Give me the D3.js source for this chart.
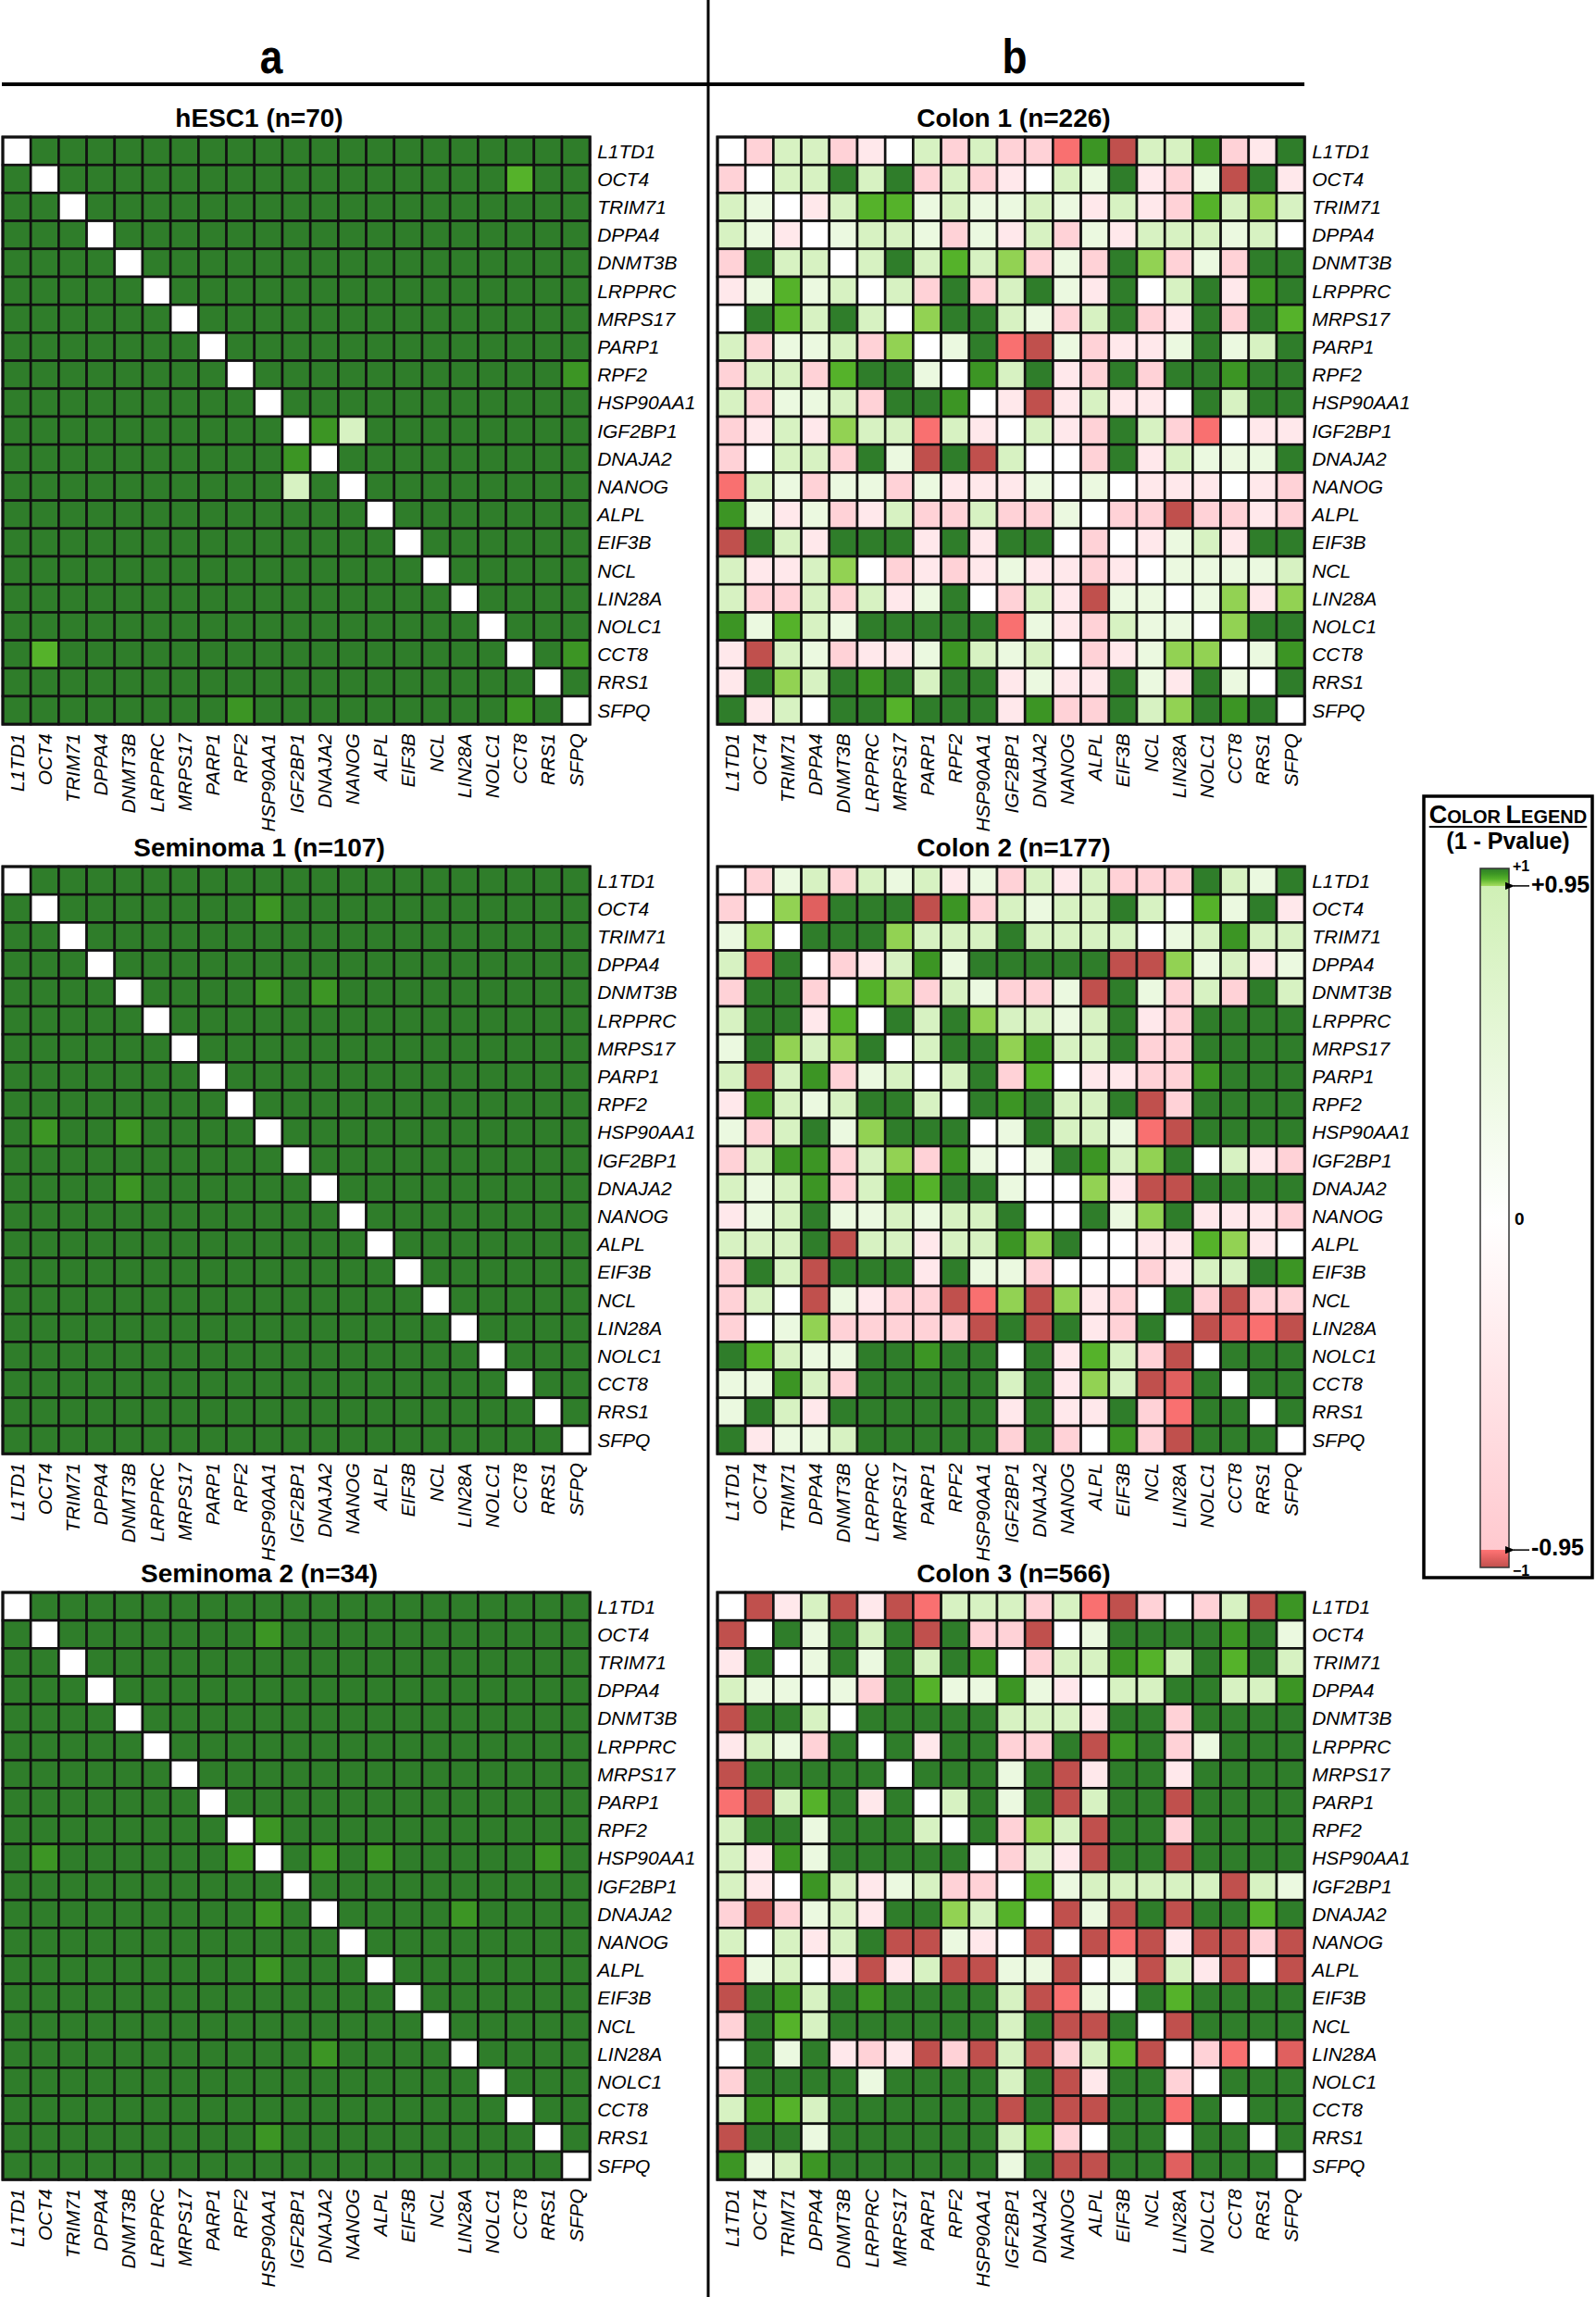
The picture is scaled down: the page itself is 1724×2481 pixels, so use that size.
<!DOCTYPE html>
<html><head><meta charset="utf-8">
<script src="https://cdn.jsdelivr.net/npm/d3@7"></script>
<style>body{margin:0;background:#fff} svg{display:block}</style>
</head><body>
<svg id="chart" width="1724" height="2481"></svg>
<script>
// ---------------- DATA ----------------
const genes = ["L1TD1","OCT4","TRIM71","DPPA4","DNMT3B","LRPPRC","MRPS17","PARP1","RPF2","HSP90AA1","IGF2BP1","DNAJA2","NANOG","ALPL","EIF3B","NCL","LIN28A","NOLC1","CCT8","RRS1","SFPQ"];
// signed (1 - Pvalue) levels used for each cell code (x = diagonal, no value)
const codeValues = {D:1, M:0.985, B:0.97, L:0.955, g:0.8, h:0.4, w:0, q:-0.4, p:-0.8, r:-0.955, m:-0.975, R:-1, x:null};
const panelTitles = ["hESC1 (n=70)","Colon 1 (n=226)","Seminoma 1 (n=107)","Colon 2 (n=177)","Seminoma 2 (n=34)","Colon 3 (n=566)"];
const panelLetters = ["a","b"];

const hESC1 = [
"xDDDDDD DDDDDDD DDDDDDD","DxDDDDD DDDDDDD DDDDBDD","DDxDDDD DDDDDDD DDDDDDD","DDDxDDD DDDDDDD DDDDDDD",
"DDDDxDD DDDDDDD DDDDDDD","DDDDDxD DDDDDDD DDDDDDD","DDDDDDx DDDDDDD DDDDDDD","DDDDDDD xDDDDDD DDDDDDD",
"DDDDDDD DxDDDDD DDDDDDM","DDDDDDD DDxDDDD DDDDDDD","DDDDDDD DDDxMgD DDDDDDD","DDDDDDD DDDMxDD DDDDDDD",
"DDDDDDD DDDgDxD DDDDDDD","DDDDDDD DDDDDDx DDDDDDD","DDDDDDD DDDDDDD xDDDDDD","DDDDDDD DDDDDDD DxDDDDD",
"DDDDDDD DDDDDDD DDxDDDD","DDDDDDD DDDDDDD DDDxDDD","DBDDDDD DDDDDDD DDDDxDM","DDDDDDD DDDDDDD DDDDDxD",
"DDDDDDD DMDDDDD DDDDMDx"];
const seminoma1 = [
"xDDDDDD DDDDDDD DDDDDDD","DxDDDDD DDMDDDD DDDDDDD","DDxDDDD DDDDDDD DDDDDDD","DDDxDDD DDDDDDD DDDDDDD",
"DDDDxDD DDMDMDD DDDDDDD","DDDDDxD DDDDDDD DDDDDDD","DDDDDDx DDDDDDD DDDDDDD","DDDDDDD xDDDDDD DDDDDDD",
"DDDDDDD DxDDDDD DDDDDDD","DMDDMDD DDxDDDD DDDDDDD","DDDDDDD DDDxDDD DDDDDDD","DDDDMDD DDDDxDD DDDDDDD",
"DDDDDDD DDDDDxD DDDDDDD","DDDDDDD DDDDDDx DDDDDDD","DDDDDDD DDDDDDD xDDDDDD","DDDDDDD DDDDDDD DxDDDDD",
"DDDDDDD DDDDDDD DDxDDDD","DDDDDDD DDDDDDD DDDxDDD","DDDDDDD DDDDDDD DDDDxDD","DDDDDDD DDDDDDD DDDDDxD",
"DDDDDDD DDDDDDD DDDDDDx"];
const seminoma2 = [
"xDDDDDD DDDDDDD DDDDDDD","DxDDDDD DDMDDDD DDDDDDD","DDxDDDD DDDDDDD DDDDDDD","DDDxDDD DDDDDDD DDDDDDD",
"DDDDxDD DDDDDDD DDDDDDD","DDDDDxD DDDDDDD DDDDDDD","DDDDDDx DDDDDDD DDDDDDD","DDDDDDD xDDDDDD DDDDDDD",
"DDDDDDD DxMDDDD DDDDDDD","DMDDDDD DMxDMDM DDDDDMD","DDDDDDD DDDxDDD DDDDDDD","DDDDDDD DDMDxDD DDMDDDD",
"DDDDDDD DDDDDxD DDDDDDD","DDDDDDD DDMDDDx DDDDDDD","DDDDDDD DDDDDDD xDDDDDD","DDDDDDD DDDDDDD DxDDDDD",
"DDDDDDD DDDDMDD DDxDDDD","DDDDDDD DDDDDDD DDDxDDD","DDDDDDD DDDDDDD DDDDxDD","DDDDDDD DDMDDDD DDDDDxD",
"DDDDDDD DDDDDDD DDDDDDx"];
const colon1 = [
"xpggpqw gpgpprM RggMpqD","pxggDgD pgpqwgh DqphRDq","ghxqgBB hghhghq gqpBgLg","ghqxhgg hphqgph qggghgw",
"pDggxgD gBgLphp DLphpDD","qhBhgxg pDpgDhq DwgDqMD","wDBgDgx LDDghpg DpqDpDB","gphhgpL xhDrRhp qqhDhgD",
"pggpBDD hxMgDqp DpDDMDD","gphhgpD DMxqRqg qqwDgDD","pqgqLgg rgqxgqp Dgprwqq","pwggpDh RDRgxwp DqghhhD",
"rghphhp hqqqhxh wqqqwqp","Mhqhpqg ppgpphx ppRppqp","RDgqDDD qDqDDwp xqhgqDD","gqqgLwp qpqhqqp qxhhhhg",
"gppgpgq hDwpgqR hhxhLqL","MhBghDD DDDrhqp ghhxLDD","qRghpqq hMghgwp qhLLxhM","qDLgDMD gDDqhqq DhqDhxD",
"DqgwDDB DDDqMpp DgLDMDx"];
const colon2 = [
"xphgpgh gqhpgqg pppDghD","pxLmDDD RMpghgg DgwBhDq","hLxDDDL gggDggg gwhgMgg","gmDxpqg MhDDDDD RRLhgqh",
"pDDpxBL pghpphR DhpgpDg","gDDqBxD gDLgghg DqpDDDD","hDLgLDx gDDLMgg DppDDDD","gRgMphg xgDpBwq qppMDDD",
"qMghgDD gxDMDgg DRpDDDD","hpgDhLD DDxhDgg hrRDDDD","pgMMpgL pMhxhDM gLDwgqp","ghgMpgM BDDhxwL qRRDDDD",
"qhgDhhg hggDwxD hLDqqqp","gggDRgg qggMLDx wqqBLqw","pDgRDDD qDhhpww xpqggDM","pgwRhqp pRrLRLq pxDpRpp",
"pwhLppp ppRDRDq pDxRmrR","DBghhDD MDDwDqB gpRxDDD","hhMgpDD DDDgDqL gRmDxDD","hDgqDDD DDDqDqq DprDDxD",
"DqhhgDD DDDpDpw MpRDDDx"];
const colon3 = [
"xRqgRqR rgggpgr RpwpgRM","RxDhDgD RDppRwh DDDDMDh","qDxhDhD gDMwpgg MBgDBDg","ghhxhpD BhhMhqw ggDDggM",
"RDDgxDD DDDgggq DDpDDDD","qghpDxD qDDppDR MDphDDD","RDDDDDx DDDhDRq DDqDDDD","rRgBDqD xgDhDRg DDRDDDD",
"gDDhDDD gxDpLgR DDpDDDD","gqMhDDD DDxpgqR DDRDDDD","gqwMgqh gppxBhg ggggRgh","pRphgqD DLgBxRh RDRDDBD",
"gwgqgDR RhqwRxR rRqRRpR","rhgwqRq gRRhhRx hRgqRwR","RDMgDMD DDDgRrh xDBDDDD","pDBgDDD DDDgDRR DxRDDDD",
"wDhDqpq RpRgRpg BRxprwm","pDDDDhD DDDgDRq DDpxDDD","gMBgDDD DDDRDRR DDrDxDD","RDDhDDD DDDgBpw DDwDDxD",
"MhgMDDD DDDhDRR DDmDDDx"];
const panelData = [hESC1, colon1, seminoma1, colon2, seminoma2, colon3];

// legend ticks
const legendTicks = [1, 0.95, 0, -0.95, -1];

// ---------------- LAYOUT ----------------
const svg = d3.select("#chart");
const cell = 30.2, grid = cell * genes.length;
const colX = [3, 775];
const rowY = [148, 936, 1720];
const titleCX = [280, 1095];
const font = "'Liberation Sans', Arial, Helvetica, sans-serif";

const color = d3.scaleLinear()
  .domain([-1, -0.975, -0.95, -0.9499, 0, 0.9499, 0.95, 0.97, 0.985, 1])
  .range(["#c0504d", "#e0605f", "#ff7474", "#ffc9cf", "#ffffff", "#d0f0b6", "#a6dd60", "#55b22a", "#3c9524", "#2f7d2a"])
  .clamp(true);

const band = d3.scaleBand().domain(genes).range([0, grid]);

// panel letters and separators
svg.append("line").attr("x1", 2).attr("x2", 1409).attr("y1", 91).attr("y2", 91)
  .attr("stroke", "#000").attr("stroke-width", 4);
svg.append("line").attr("x1", 765).attr("x2", 765).attr("y1", 0).attr("y2", 2481)
  .attr("stroke", "#000").attr("stroke-width", 3);
svg.selectAll("text.letter").data(panelLetters).enter().append("text")
  .attr("class", "letter")
  .attr("transform", (d, i) => `translate(${i === 0 ? 293 : 1096},79) scale(0.85,1)`)
  .attr("text-anchor", "middle")
  .style("font-family", font)
  .style("font-weight", "bold").style("font-size", "52px")
  .text(d => d);

panelData.forEach((rows, pi) => {
  const c = pi % 2, r = Math.floor(pi / 2);
  const gx = colX[c], gy = rowY[r];
  const g = svg.append("g").attr("transform", `translate(${gx},${gy})`);
  const cells = [];
  rows.forEach((row, ri) => {
    row.replace(/ /g, "").split("").forEach((code, ci) => {
      cells.push({row: genes[ri], col: genes[ci], v: codeValues[code]});
    });
  });
  g.append("rect").attr("x", 0).attr("y", 0).attr("width", grid).attr("height", grid)
    .attr("fill", "#111");
  g.selectAll("rect.cell").data(cells).enter().append("rect")
    .attr("class", "cell")
    .attr("x", d => band(d.col)).attr("y", d => band(d.row))
    .attr("width", band.bandwidth()).attr("height", band.bandwidth())
    .attr("fill", d => d.v === null ? "#ffffff" : color(d.v))
    .attr("stroke", "#111").attr("stroke-width", 2.6);
  g.append("rect").attr("x", 0).attr("y", 0).attr("width", grid).attr("height", grid)
    .attr("fill", "none").attr("stroke", "#111").attr("stroke-width", 3);

  // title
  svg.append("text")
    .attr("x", titleCX[c]).attr("y", gy - 11)
    .attr("text-anchor", "middle")
    .style("font-family", font).style("font-weight", "bold").style("font-size", "28px")
    .text(panelTitles[pi]);

  // row labels
  g.selectAll("text.rl").data(genes).enter().append("text")
    .attr("class", "rl")
    .attr("x", grid + 8).attr("y", d => band(d) + band.bandwidth() / 2)
    .attr("dy", "0.36em")
    .style("font-family", font).style("font-style", "italic").style("font-size", "21px")
    .text(d => d);
  // column labels
  g.selectAll("text.cl").data(genes).enter().append("text")
    .attr("class", "cl")
    .attr("transform", d => `translate(${band(d) + band.bandwidth() / 2},${grid + 10}) rotate(-90)`)
    .attr("text-anchor", "end").attr("dy", "0.36em")
    .style("font-family", font).style("font-style", "italic").style("font-size", "21px")
    .text(d => d);
});

// ---------------- LEGEND ----------------
const lg = svg.append("g");
lg.append("rect").attr("x", 1538).attr("y", 860).attr("width", 182).attr("height", 844)
  .attr("fill", "#fff").attr("stroke", "#000").attr("stroke-width", 3.5);
const lt = lg.append("text").attr("x", 1629).attr("y", 889).attr("text-anchor", "middle")
  .style("font-family", font).style("font-weight", "bold");
lt.append("tspan").style("font-size", "27px").text("C");
lt.append("tspan").style("font-size", "20px").text("OLOR ");
lt.append("tspan").style("font-size", "27px").text("L");
lt.append("tspan").style("font-size", "20px").text("EGEND");
const bb = lt.node().getBBox();
lg.append("line").attr("x1", bb.x).attr("x2", bb.x + bb.width).attr("y1", 893).attr("y2", 893)
  .attr("stroke", "#000").attr("stroke-width", 2);
lg.append("text").attr("x", 1629).attr("y", 917).attr("text-anchor", "middle")
  .style("font-family", font).style("font-weight", "bold").style("font-size", "25px")
  .text("(1 - Pvalue)");

const ly = d3.scaleLinear().domain([1, -1]).range([938, 1693]);
const defs = svg.append("defs");
const grad = defs.append("linearGradient").attr("id", "lgrad")
  .attr("x1", 0).attr("x2", 0).attr("y1", 0).attr("y2", 1);
color.domain().slice().reverse().forEach(v => {
  grad.append("stop").attr("offset", (1 - v) / 2).attr("stop-color", color(v));
});
lg.append("rect").attr("x", 1599).attr("y", ly(1)).attr("width", 31).attr("height", ly(-1) - ly(1))
  .attr("fill", "url(#lgrad)").attr("stroke", "#333").attr("stroke-width", 1.5);

defs.append("marker").attr("id", "arr").attr("viewBox", "0 0 10 10").attr("refX", 1).attr("refY", 5)
  .attr("markerWidth", 7).attr("markerHeight", 7).attr("orient", "auto-start-reverse")
  .append("path").attr("d", "M0,5 L10,1 L10,9 Z").attr("fill", "#000");

legendTicks.forEach(t => {
  const y = ly(t);
  if (Math.abs(t) === 1) {
    lg.append("text").attr("x", 1634).attr("y", t > 0 ? y + 3 : y + 9)
      .style("font-family", font).style("font-weight", "bold").style("font-size", "16px")
      .text(t > 0 ? "+1" : "\u22121");
  } else if (t === 0) {
    lg.append("text").attr("x", 1636).attr("y", y + 7)
      .style("font-family", font).style("font-weight", "bold").style("font-size", "19px")
      .text("0");
  } else {
    lg.append("line").attr("x1", 1652).attr("x2", 1635).attr("y1", y).attr("y2", y)
      .attr("stroke", "#000").attr("stroke-width", 1.5).attr("marker-end", "url(#arr)");
    lg.append("text").attr("x", 1654).attr("y", t > 0 ? y + 7 : y + 6)
      .style("font-family", font).style("font-weight", "bold").style("font-size", "25px")
      .text(t > 0 ? "+0.95" : "-0.95");
  }
});
</script>
</body></html>
